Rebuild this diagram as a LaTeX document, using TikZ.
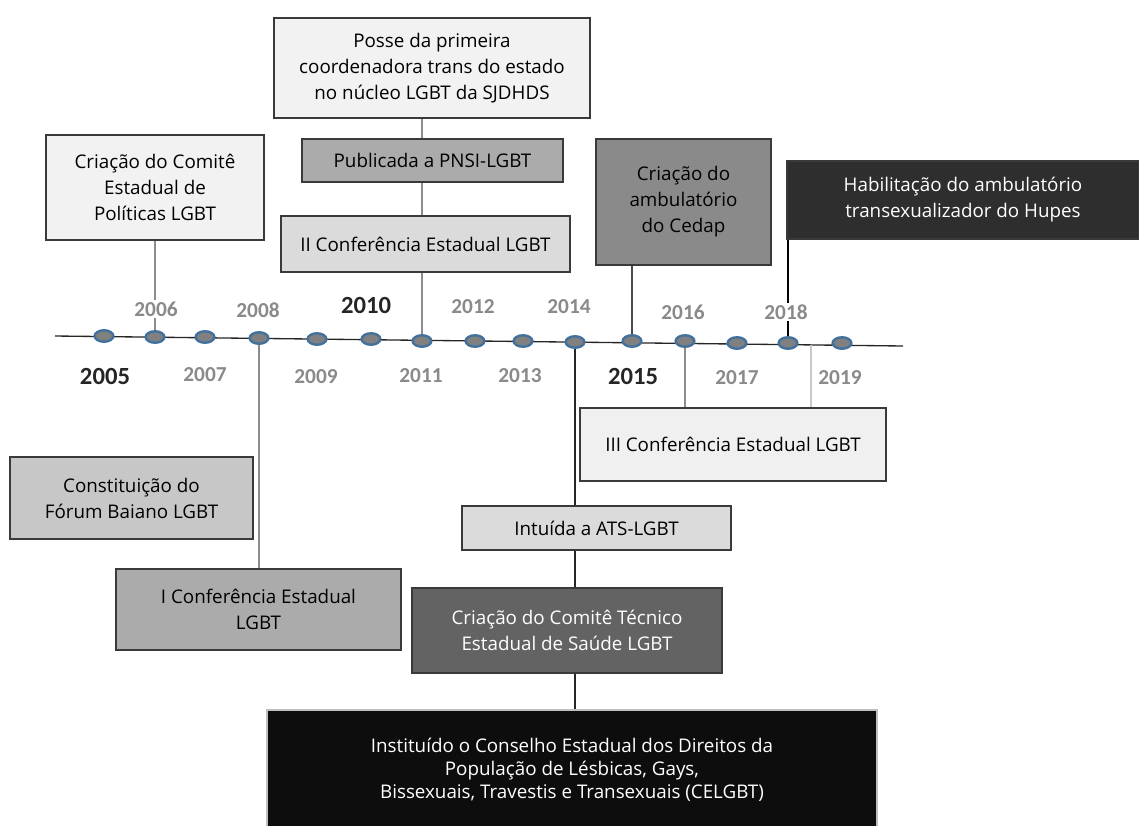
\documentclass[tikz,border=0pt]{standalone}
\usepackage{fontspec}
\setmainfont{Open Sans}
\newfontfamily\yearfont{Carlito}
\usetikzlibrary{backgrounds,positioning,shapes.geometric}

\definecolor{boxline}{HTML}{3A3A3A}
\definecolor{dotblue}{HTML}{41719C}
\definecolor{dotgray}{HTML}{808080}
\definecolor{yeargray}{HTML}{8A8A8A}
\definecolor{yearblack}{HTML}{262626}
\definecolor{linegray}{HTML}{8C8C8C}
\definecolor{linelight}{HTML}{C8C8C8}
\definecolor{linedark}{HTML}{4A4A4A}

\begin{document}
\begin{tikzpicture}[x=0.75pt,y=-0.75pt,
    evbox/.style={draw=boxline,line width=0.8pt,align=center,inner sep=0pt,
      font=\fontsize{14.1}{19.5}\selectfont},
    yr/.style={font=\yearfont\bfseries\fontsize{16}{16}\selectfont,text=yeargray,
      fill=white,inner sep=1pt},
    yrbig/.style={yr,font=\yearfont\bfseries\fontsize{18.5}{19}\selectfont,text=yearblack},
    dot/.style={ellipse,draw=dotblue,fill=dotgray,line width=1.8pt,
      minimum width=14pt,minimum height=8.6pt,inner sep=0pt}]

  \useasboundingbox (0,0) rectangle (1139,825);

  % timeline
  \coordinate (tA) at (55,336);
  \coordinate (tB) at (903,346);
  \coordinate (t19) at (811,345);

  \foreach \yr/\x/\y in {2005/104/336, 2006/155/337, 2007/205/337, 2008/259/338,
      2009/317/339, 2010/371/339, 2011/422/341, 2012/475/341, 2013/523/341,
      2014/575/342, 2015/632/341, 2016/685/341, 2017/737/343, 2018/788/343,
      2019/842/343}
    \node[dot] (d\yr) at (\x,\y) {};

  \foreach \yr/\x/\y/\s in {2005/105/376/yrbig, 2006/156/309/yr, 2007/205/375/yr,
      2008/258/310/yr, 2009/316/377/yr, 2010/366/305/yrbig, 2011/421/376/yr,
      2012/473/307/yr, 2013/520/376/yr, 2014/569/307/yr, 2015/633/376/yrbig,
      2016/683/312/yr, 2017/737/378/yr, 2018/786/312/yr, 2019/840/378/yr}
    \node[\s] (l\yr) at (\x,\y) {\yr};

  % events above
  \node[evbox,fill=black!5,minimum width=237pt,minimum height=75pt] (posse) at (432,68)
    {Posse da primeira\\coordenadora trans do estado\\no núcleo LGBT da SJDHDS};
  \node[evbox,fill=black!33,minimum width=195.75pt,minimum height=32.25pt] (pnsi) at (432.5,160.5)
    {Publicada a PNSI-LGBT};
  \node[evbox,fill=black!14,minimum width=216.75pt,minimum height=42pt] (conf2) at (425.5,244)
    {II Conferência Estadual LGBT};
  \node[evbox,fill=black!5,minimum width=163.5pt,minimum height=78.75pt] (comite) at (155,187.5)
    {Criação do Comitê\\Estadual de\\Políticas LGBT};
  \node[evbox,fill=black!46,minimum width=131.25pt,minimum height=94.5pt] (cedap) at (683.5,202)
    {Criação do\\ambulatório\\do Cedap};
  \node[evbox,fill=black!82,text=white,minimum width=264pt,minimum height=58.5pt] (hupes) at (963,200)
    {Habilitação do ambulatório\\transexualizador do Hupes};

  % events below
  \node[evbox,fill=black!22,minimum width=182.25pt,minimum height=61.5pt] (forum) at (131.5,498)
    {Constituição do\\Fórum Baiano LGBT};
  \node[evbox,fill=black!33,minimum width=213.75pt,minimum height=60.75pt] (conf1) at (258.5,609.5)
    {I Conferência Estadual\\LGBT};
  \node[evbox,fill=black!6,minimum width=229.5pt,minimum height=54.75pt] (conf3) at (733,444.5)
    {III Conferência Estadual LGBT};
  \node[evbox,fill=black!14,minimum width=201.75pt,minimum height=33pt] (ats) at (596.5,528)
    {Intuída a ATS-LGBT};
  \node[evbox,fill=black!61,text=white,minimum width=232.5pt,minimum height=63.75pt] (tecnico) at (567,630.5)
    {Criação do Comitê Técnico\\Estadual de Saúde LGBT};
  \node[evbox,draw=black!25,fill=black!95,text=white,minimum width=457.5pt,minimum height=90pt,
    font=\fontsize{14.1}{17.2}\selectfont] (celgbt) at (572,770)
    {Instituído o Conselho Estadual dos Direitos da\\População de Lésbicas, Gays,\\Bissexuais, Travestis e Transexuais (CELGBT)};

  \begin{scope}[on background layer]
    \draw[line width=1pt,black!85] (tA) -- (tB);
    \draw[linegray,line width=0.9pt] (comite) -- (d2006);
    \draw[linegray,line width=0.9pt] (posse.south -| d2011) -- (d2011);
    \draw[linedark,line width=0.9pt] (cedap.south -| d2015) -- (d2015);
    \draw[black,line width=1pt] (hupes.south -| d2018) -- (d2018);
    \draw[linegray,line width=0.9pt] (d2008) -- (d2008 |- conf1.north);
    \draw[black!85,line width=1pt] (d2014) -- (d2014 |- celgbt.north);
    \draw[linegray,line width=0.9pt] (d2016) -- (d2016 |- conf3.north);
    \draw[linelight,line width=0.8pt] (t19) -- (t19 |- conf3.north);
  \end{scope}
\end{tikzpicture}
\end{document}
